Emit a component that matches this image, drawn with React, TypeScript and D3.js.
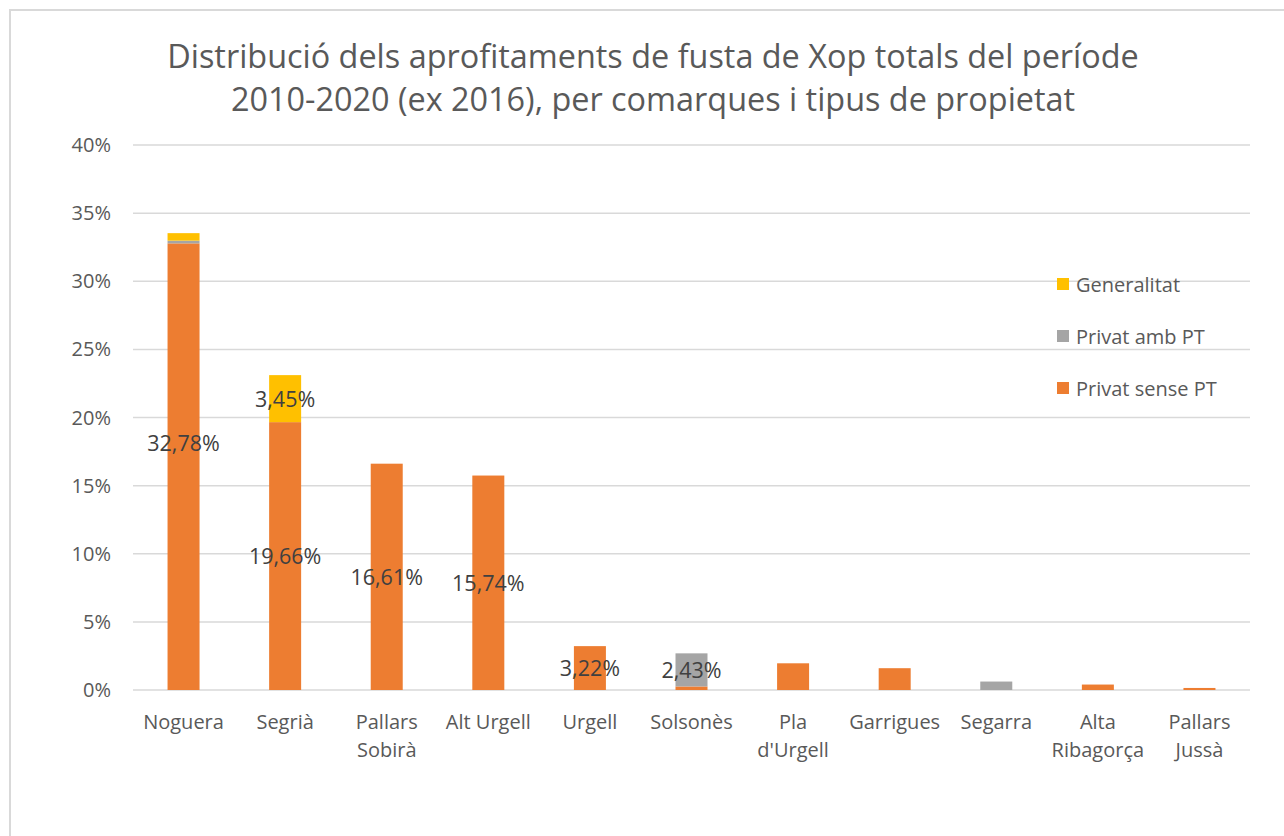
import React from "react";
import * as d3 from "d3";

const categories = ["Noguera", "Segrià", "Pallars Sobirà", "Alt Urgell", "Urgell", "Solsonès", "Pla d'Urgell", "Garrigues", "Segarra", "Alta Ribagorça", "Pallars Jussà"];
const categoryLines = [["Noguera"], ["Segrià"], ["Pallars", "Sobirà"], ["Alt Urgell"], ["Urgell"], ["Solsonès"], ["Pla", "d'Urgell"], ["Garrigues"], ["Segarra"], ["Alta", "Ribagorça"], ["Pallars", "Jussà"]];
const privatSensePT = [32.78, 19.66, 16.61, 15.74, 3.22, 0.26, 1.96, 1.6, 0, 0.4, 0.15];
const privatAmbPT = [0.2, 0, 0, 0, 0, 2.43, 0, 0, 0.62, 0, 0];
const generalitat = [0.55, 3.45, 0, 0, 0, 0, 0, 0, 0, 0, 0];
const yTicks = [0, 5, 10, 15, 20, 25, 30, 35, 40];
const seriesNames = ["Privat sense PT", "Privat amb PT", "Generalitat"];
const seriesColors = ["#ED7D31", "#A5A5A5", "#FFC000"];
// labels: [category index, series index, y offset]
const labels: [number, number, number][] = [
  [0, 0, -24], [1, 0, 0], [1, 2, 0], [2, 0, 0], [3, 0, 0], [4, 0, 0], [5, 1, 0],
];

const W = 1284, H = 836;
const FONT = "'Open Sans', Lato, sans-serif";

export default function App() {
  const x = d3.scaleBand().domain(categories).range([133, 1250]).paddingInner(0.685).paddingOuter(0.34);
  const y = d3.scaleLinear().domain([0, 40]).range([690, 145]);
  const rows = categories.map((c, i) => ({ c, s0: privatSensePT[i], s1: privatAmbPT[i], s2: generalitat[i] }));
  const stack = d3.stack<any>().keys(["s0", "s1", "s2"])(rows);
  const fmt = (v: number) => v.toFixed(2).replace(".", ",") + "%";
  return (
    <svg width={W} height={H} style={{ position: "absolute", left: 0, top: 0, background: "#fff" }}>
      <rect x={10} y={10} width={W} height={H} fill="#fff" stroke="#D9D9D9" strokeWidth={2} />
      <text x={653} y={68} textAnchor="middle" fontFamily={FONT} fontSize={32.4} fill="#595959">Distribució dels aprofitaments de fusta de Xop totals del període</text>
      <text x={653} y={111} textAnchor="middle" fontFamily={FONT} fontSize={32.4} fill="#595959">2010-2020 (ex 2016), per comarques i tipus de propietat</text>
      {yTicks.map((t) => (
        <g key={t}>
          <line x1={133} x2={1250} y1={y(t)} y2={y(t)} stroke="#D9D9D9" strokeWidth={1.5} />
          <text x={111} y={y(t) + 7} textAnchor="end" fontFamily={FONT} fontSize={20} fill="#595959">{t}%</text>
        </g>
      ))}
      {stack.map((layer, si) => (
        <g key={si} fill={seriesColors[si]}>
          {layer.map((d, i) => d[1] - d[0] > 0 ? (
            <rect key={i} x={x(categories[i])} width={x.bandwidth()} y={y(d[1])} height={y(d[0]) - y(d[1])} />
          ) : null)}
        </g>
      ))}
      {labels.map(([ci, si, dy], k) => {
        const d = stack[si][ci];
        const cx = (x(categories[ci]) as number) + x.bandwidth() / 2;
        return (
          <text key={k} x={cx} y={y((d[0] + d[1]) / 2) + 8 + dy} textAnchor="middle" fontFamily={FONT} fontSize={21.5} fill="#404040">{fmt(d[1] - d[0])}</text>
        );
      })}
      {categoryLines.map((lines, i) => (
        <text key={i} textAnchor="middle" fontFamily={FONT} fontSize={20} fill="#595959">
          {lines.map((l, j) => (
            <tspan key={j} x={(x(categories[i]) as number) + x.bandwidth() / 2} y={729 + j * 28}>{l}</tspan>
          ))}
        </text>
      ))}
      {[2, 1, 0].map((si, k) => (
        <g key={si}>
          <rect x={1057} y={278 + k * 52} width={12} height={12} fill={seriesColors[si]} />
          <text x={1076} y={292 + k * 52} fontFamily={FONT} fontSize={20} fill="#595959">{seriesNames[si]}</text>
        </g>
      ))}
    </svg>
  );
}
